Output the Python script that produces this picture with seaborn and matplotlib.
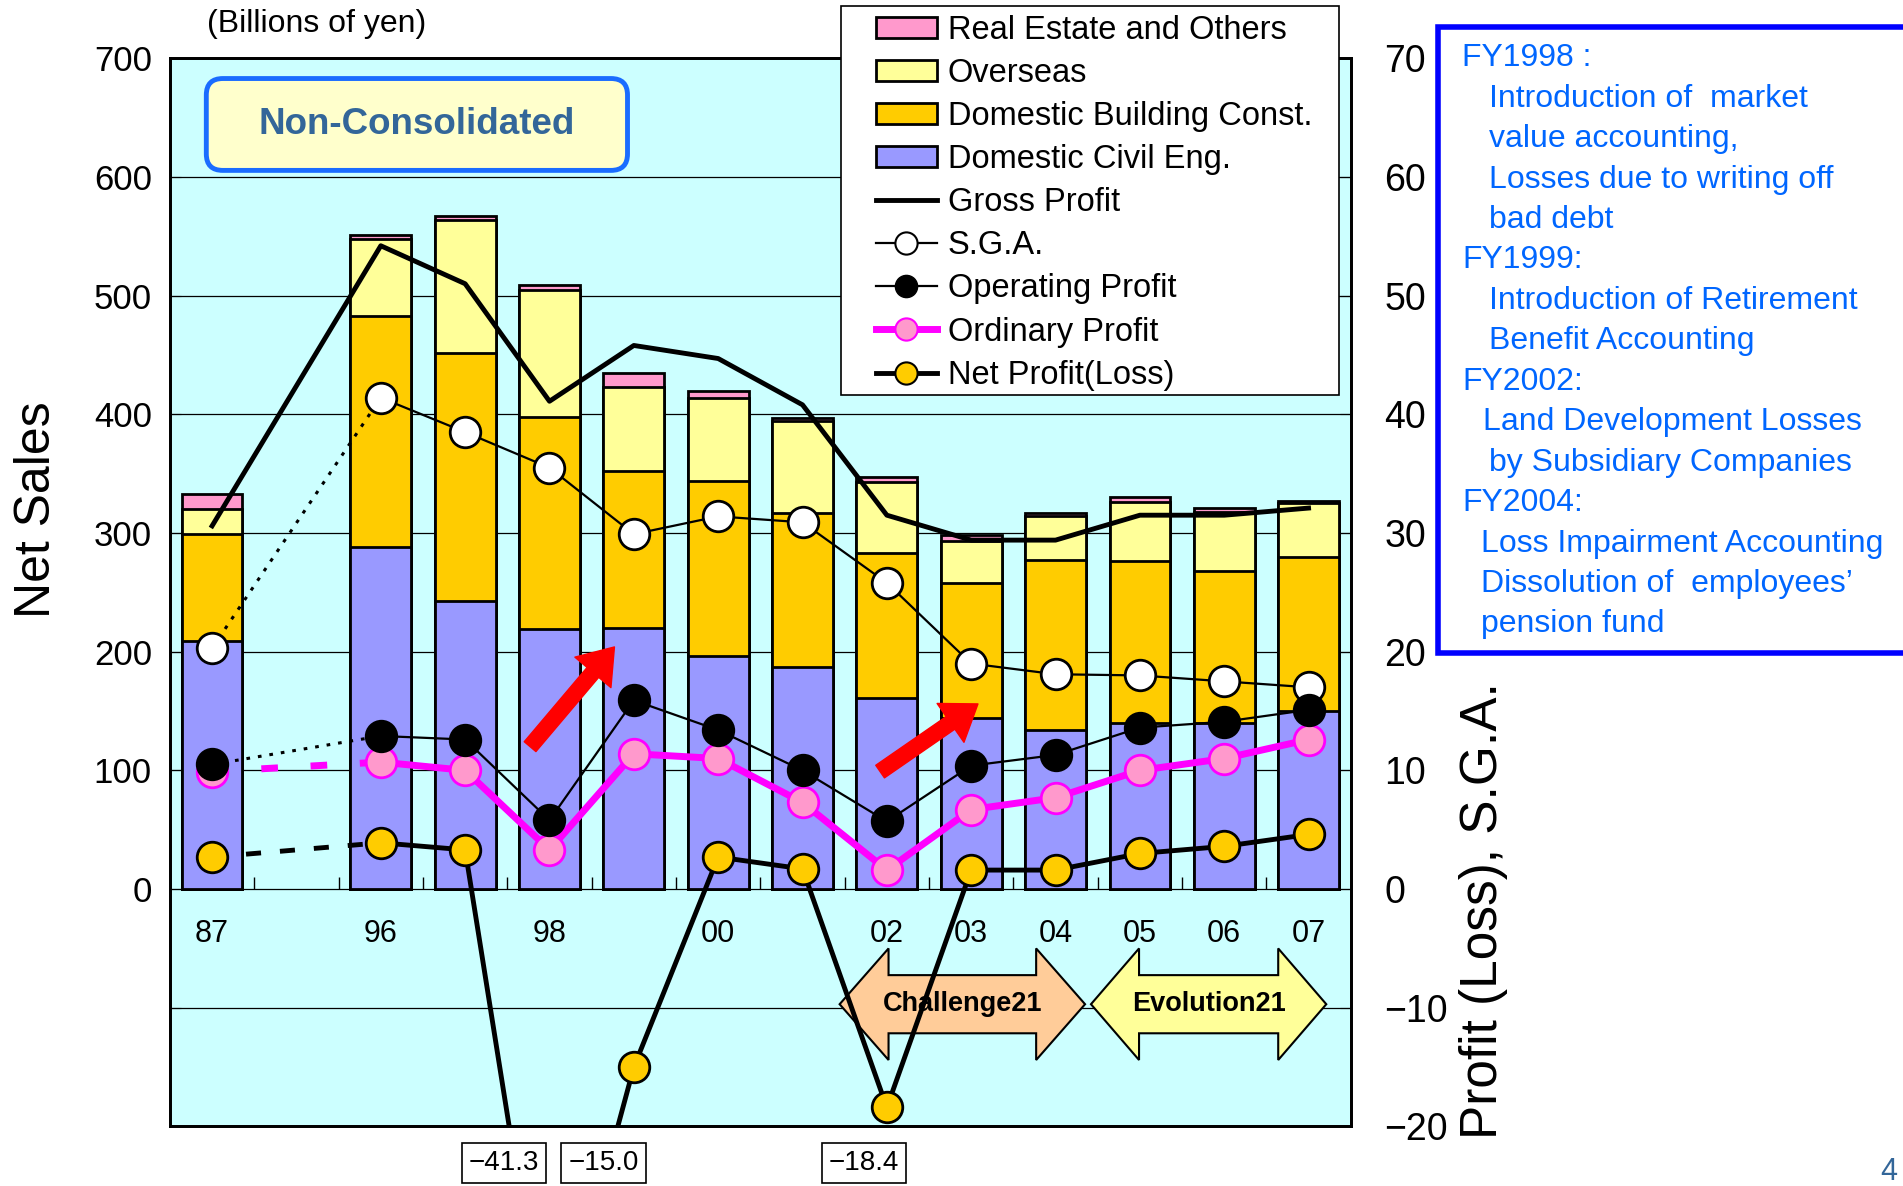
import numpy as np
import pandas as pd
import matplotlib
matplotlib.use('Agg')
import matplotlib.pyplot as plt
import matplotlib.transforms as mtransforms
from matplotlib.patches import Patch, Polygon, FancyBboxPatch, Rectangle, FancyArrowPatch, ArrowStyle
from matplotlib.lines import Line2D
import seaborn as sns

# fiscal years: 87 stands apart, one empty slot before 96
years = ['87', '96', '97', '98', '99', '00', '01', '02', '03', '04', '05', '06', '07']
tick_labels = ['87', '96', '', '98', '', '00', '', '02', '03', '04', '05', '06', '07']

# net sales by segment, billions of yen (left axis)
civil_eng = [209, 288, 243, 219, 220, 196, 187, 161, 144, 134, 140, 140, 150]
building = [90, 195, 209, 179, 132, 148, 130, 122, 114, 143, 136, 128, 130]
overseas = [21, 65, 112, 107, 71, 70, 77, 60, 35, 37, 50, 50, 45]
real_estate = [13, 3, 3, 4, 12, 6, 3, 4, 5, 3, 4, 3, 2]

# profits and S.G.A., billions of yen (right axis)
gross_profit = [30.6, 54.2, 51.0, 41.1, 45.8, 44.7, 40.8, 31.5, 29.4, 29.4, 31.5, 31.5, 32.1]
sga = [20.3, 41.4, 38.5, 35.5, 29.9, 31.4, 30.9, 25.8, 19.0, 18.1, 18.0, 17.5, 17.0]
operating_profit = [10.5, 12.9, 12.6, 5.8, 15.9, 13.4, 10.0, 5.7, 10.4, 11.3, 13.6, 14.1, 15.1]
ordinary_profit = [9.9, 10.7, 10.0, 3.3, 11.4, 11.0, 7.3, 1.6, 6.7, 7.7, 10.0, 11.0, 12.6]
net_profit = [2.7, 3.9, 3.3, -41.3, -15.0, 2.7, 1.7, -18.4, 1.6, 1.6, 3.0, 3.6, 4.6]

notes = ['FY1998 :',
         'Introduction of  market',
         'value accounting,',
         'Losses due to writing off',
         'bad debt',
         'FY1999:',
         'Introduction of Retirement',
         'Benefit Accounting',
         'FY2002:',
         'Land Development Losses',
         'by Subsidiary Companies',
         'FY2004:',
         'Loss Impairment Accounting',
         'Dissolution of  employees\u2019',
         'pension fund']
note_x = [0.7685, 0.7825, 0.7825, 0.7825, 0.7825, 0.7685, 0.7825, 0.7825,
          0.7685, 0.7793, 0.7825, 0.7685, 0.778, 0.778, 0.778]

C_RE, C_OVS, C_BLD, C_CIV = '#FF99CC', '#FFFF99', '#FFCC00', '#9999FF'
BG = '#CCFFFF'

plt.rcParams['font.family'] = ['Liberation Sans', 'DejaVu Sans']

pos = np.arange(len(years)) + 1
pos[0] = 0

df = pd.DataFrame({'pos': pos, 'civil': civil_eng})
df['bld_top'] = df.civil + np.array(building)
df['ovs_top'] = df.bld_top + np.array(overseas)
df['total'] = df.ovs_top + np.array(real_estate)

fig = plt.figure(figsize=(19.03, 11.86), dpi=100)
ax = fig.add_axes([0.0893, 0.0502, 0.6205, 0.9007])
ax.set_facecolor(BG)

# stacked bars: draw cumulative tops from the biggest down
for col, c in [('total', C_RE), ('ovs_top', C_OVS), ('bld_top', C_BLD), ('civil', C_CIV)]:
    sns.barplot(data=df, x='pos', y=col, native_scale=True, orient='x', width=0.72,
                color=c, saturation=1, edgecolor='black', linewidth=2,
                errorbar=None, ax=ax)

ax.set_xlim(-0.5, 13.5)
ax.set_ylim(-200, 700)
ax.set_xlabel('')
ax.set_ylabel('')
ax.set_xticks([])
ax.set_yticks(np.arange(-100, 701, 100))
ax.set_yticklabels([''] + [str(v) for v in range(0, 701, 100)])
ax.grid(axis='y', color='black', linewidth=0.9)
ax.set_axisbelow(True)
ax.tick_params(axis='y', direction='in', length=8, labelsize=25, pad=13)
ax.vlines(np.arange(0.5, 13.5, 1), 0, 10, color='black', lw=1, zorder=1.5)
for p, lab in zip(pos, tick_labels):
    ax.text(p, -38, lab, ha='center', va='center', fontsize=22)

# red arrows
for tail, tip in [((3.77, 120), (4.77, 204)), ((7.92, 99), (9.08, 156))]:
    ax.add_patch(FancyArrowPatch(tail, tip, mutation_scale=1, shrinkA=0, shrinkB=0,
                                 arrowstyle=ArrowStyle.Simple(head_length=24, head_width=34, tail_width=11),
                                 color='red', zorder=4))


def double_arrow(x0, x1, yc, body, head, hl, fc, label):
    pts = [(x0, yc), (x0 + hl, yc + head), (x0 + hl, yc + body), (x1 - hl, yc + body),
           (x1 - hl, yc + head), (x1, yc), (x1 - hl, yc - head), (x1 - hl, yc - body),
           (x0 + hl, yc - body), (x0 + hl, yc - head)]
    ax.add_patch(Polygon(pts, closed=True, fc=fc, ec='black', lw=1.5, zorder=3))
    ax.text((x0 + x1) / 2, yc, label, ha='center', va='center', fontsize=19.5,
            fontweight='bold', zorder=3.5)


double_arrow(7.44, 10.35, -97, 24.5, 47, 0.58, '#FFCC99', 'Challenge21')
double_arrow(10.42, 13.21, -97, 24.5, 47, 0.57, '#FFFF99', 'Evolution21')

# profit lines on right axis
ax2 = ax.twinx()
ax2.set_ylim(-20, 70)
ax2.set_yticks(np.arange(-20, 71, 10))
ax2.tick_params(axis='y', direction='in', length=8, labelsize=27, pad=24)

sns.lineplot(x=pos, y=gross_profit, color='black', linewidth=3.5, ax=ax2, legend=False, zorder=3)


def profit_line(vals, lw, lc, mfc, mec, dashes, z, conn_lw=None):
    ax2.plot(pos[:2], vals[:2], color=lc, lw=conn_lw or lw, dashes=dashes, zorder=z)
    sns.lineplot(x=pos[1:], y=vals[1:], color=lc, linewidth=lw, ax=ax2, legend=False, zorder=z)
    ax2.plot(pos, vals, ls='none', marker='o', ms=22, mfc=mfc, mec=mec, mew=2, zorder=z + 0.5)


profit_line(sga, 1.6, 'black', 'white', 'black', (1.2, 2.6), 4, conn_lw=2.2)
profit_line(ordinary_profit, 5, '#FF00FF', '#FF99CC', '#FF00FF', (2.4, 4.7), 5)
profit_line(operating_profit, 1.6, 'black', 'black', 'black', (1.2, 2.6), 6, conn_lw=2.2)
profit_line(net_profit, 3.5, 'black', '#FFCC00', 'black', (3.1, 3.9), 7)
ax2.set_xlabel('')
ax2.set_ylabel('')

for sp in list(ax.spines.values()) + list(ax2.spines.values()):
    sp.set_linewidth(2)

# boxed values for losses that run off the chart
trans = mtransforms.blended_transform_factory(ax.transData, ax.transAxes)
for xp, v in zip([3.46, 4.64, 7.73], [net_profit[3], net_profit[4], net_profit[7]]):
    ax.text(xp, -0.034, f'{v:.1f}'.replace('-', '\u2212'), transform=trans, ha='center', va='center',
            fontsize=20, clip_on=False,
            bbox=dict(boxstyle='square,pad=0.25', fc='white', ec='black', lw=1.2))

ax.text(0.031, 1.032, '(Billions of yen)', transform=ax.transAxes, fontsize=23, ha='left', va='center')
ax.text(-0.113, 0.577, 'Net Sales', transform=ax.transAxes, rotation=90, ha='center', va='center', fontsize=36)
ax.text(1.112, 0.202, 'Profit (Loss), S.G.A.', transform=ax.transAxes, rotation=90,
        ha='center', va='center', fontsize=37)

ax2.add_patch(FancyBboxPatch((0.0308, 0.895), 0.3567, 0.086, transform=ax2.transAxes,
                             boxstyle='round,pad=0,rounding_size=0.014', mutation_aspect=1.1,
                             fc='#FFFFCC', ec='#1A6CFF', lw=3.5, zorder=8))
ax2.text(0.209, 0.938, 'Non-Consolidated', transform=ax2.transAxes, ha='center', va='center',
         fontsize=26.5, fontweight='bold', color='#336699', zorder=9)

handles = [
    Patch(fc=C_RE, ec='black', lw=2, label='Real Estate and Others'),
    Patch(fc=C_OVS, ec='black', lw=2, label='Overseas'),
    Patch(fc=C_BLD, ec='black', lw=2, label='Domestic Building Const.'),
    Patch(fc=C_CIV, ec='black', lw=2, label='Domestic Civil Eng.'),
    Line2D([], [], color='black', lw=3.5, label='Gross Profit'),
    Line2D([], [], color='black', lw=1.6, marker='o', ms=16, mfc='white', mec='black', mew=1.5, label='S.G.A.'),
    Line2D([], [], color='black', lw=1.6, marker='o', ms=16, mfc='black', mec='black', label='Operating Profit'),
    Line2D([], [], color='#FF00FF', lw=5, marker='o', ms=16, mfc='#FF99CC', mec='#FF00FF', mew=1.5, label='Ordinary Profit'),
    Line2D([], [], color='black', lw=3.5, marker='o', ms=16, mfc='#FFCC00', mec='black', mew=1.5, label='Net Profit(Loss)'),
]
# legend frame drawn separately so the handles can sit further in
ax2.add_patch(Rectangle((0.5683, 0.6852), 0.4214, 0.3637, transform=ax2.transAxes,
                        fc='white', ec='black', lw=1.2, clip_on=False, zorder=19))
leg = ax2.legend(handles=handles, loc='upper left', bbox_to_anchor=(0.598, 1.0405), fontsize=23.5,
                 frameon=False, handlelength=1.86, handleheight=0.62, handletextpad=0.34,
                 labelspacing=0.37, borderpad=0, borderaxespad=0)
leg.set_zorder(20)

# notes box on the right
fig.add_artist(Rectangle((0.7557, 0.4493), 0.3, 0.5282, transform=fig.transFigure,
                         fc='white', ec='#0000FF', lw=4))
for i, (line, xn) in enumerate(zip(notes, note_x)):
    fig.text(xn, 0.9509 - i * 0.0341, line, fontsize=23, color='#0066FF', ha='left', va='center')

fig.text(0.988, 0.012, '4', fontsize=22, color='#336699', ha='left', va='center')

fig.savefig('out.png', dpi=100)
